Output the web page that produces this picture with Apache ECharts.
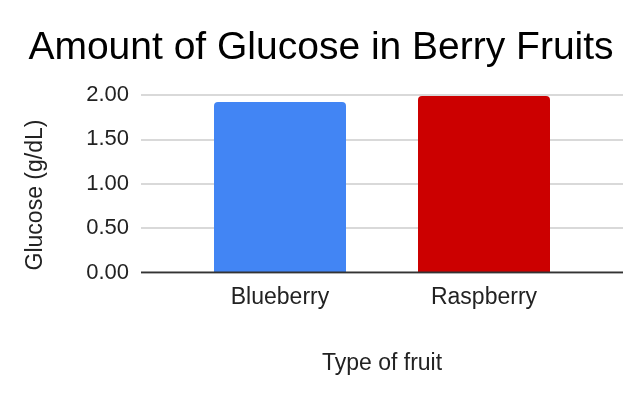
<!DOCTYPE html>
<html><head><meta charset="utf-8">
<script src="https://cdn.jsdelivr.net/npm/echarts@6/dist/echarts.min.js"></script>
<style>html,body{margin:0;padding:0;background:#fff}#c{width:642px;height:396px}</style>
</head><body><div id="c"></div>
<script>
const categories = ['Blueberry', 'Raspberry'];
const glucose = [1.92, 1.99];
const barColors = ['#4285F4', '#CC0000'];
const yTicks = [0, 0.5, 1, 1.5, 2];

const font = '"Liberation Sans", Arial, sans-serif';
const chart = echarts.init(document.getElementById('c'));
chart.setOption({
  animation: false,
  title: {
    text: 'Amount of Glucose in Berry Fruits',
    left: 'center', top: 24,
    textStyle: { fontFamily: font, fontSize: 39, fontWeight: 'normal', color: '#000' }
  },
  grid: [
    { left: 141, right: 19, top: 95, bottom: 396 - 272.5 },
    { left: 178, right: 56, top: 95, bottom: 396 - 272.5 },
    { left: 141, right: 19, top: 117.5, bottom: 396 - 272.5 }
  ],
  xAxis: [
    { gridIndex: 0, type: 'value', min: 0, max: 1, show: true,
      axisLabel: { show: false }, splitLine: { show: false }, axisTick: { show: false },
      axisLine: { show: false } },
    { gridIndex: 1, type: 'category', data: categories,
      axisLine: { show: false }, axisTick: { show: false },
      axisLabel: { fontFamily: font, fontSize: 23, color: '#222', margin: 14 },
      name: 'Type of fruit', nameLocation: 'middle', nameGap: 80,
      nameTextStyle: { fontFamily: font, fontSize: 23, color: '#222' } },
    { gridIndex: 2, type: 'value', show: false }
  ],
  yAxis: [
    { gridIndex: 0, type: 'value', min: 0, max: 2, interval: 0.5,
      axisLine: { show: false }, axisTick: { show: false },
      axisLabel: { fontFamily: font, fontSize: 22, color: '#222', margin: 12,
        formatter: v => v.toFixed(2) },
      splitLine: { lineStyle: { color: '#cccccc', width: 1.5 } } },
    { gridIndex: 1, type: 'value', min: 0, max: 2, interval: 0.5, show: false,
      splitLine: { show: false } },
    { gridIndex: 2, type: 'value', min: 0, max: 1,
      axisLine: { show: false }, axisTick: { show: false }, axisLabel: { show: false },
      splitLine: { show: false },
      name: 'Glucose (g/dL)', nameLocation: 'middle', nameGap: 94, nameRotate: 90,
      nameTextStyle: { fontFamily: font, fontSize: 23, color: '#222' } }
  ],
  series: [
    { type: 'bar', xAxisIndex: 1, yAxisIndex: 1, barWidth: 132,
      data: glucose.map((v, i) => ({ value: v, itemStyle: { color: barColors[i], borderRadius: [4, 4, 0, 0] } })) },
    { type: 'line', xAxisIndex: 0, yAxisIndex: 0, data: [[0, 0], [1, 0]], symbol: 'none',
      lineStyle: { color: '#333', width: 2 }, z: 5, silent: true }
  ]
});
</script></body></html>
